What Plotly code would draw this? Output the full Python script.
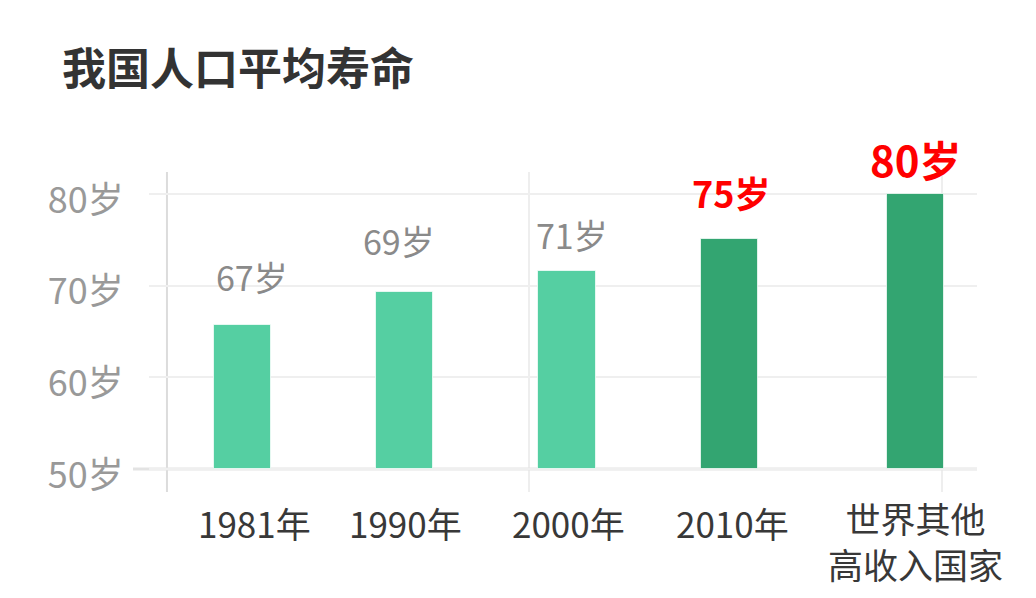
import plotly.graph_objects as go

# data
categories = ["1981年", "1990年", "2000年", "2010年", "世界其他<br>高收入国家"]
life_years = [65.7, 69.3, 71.6, 75.1, 80.0]
value_labels = ["67岁", "69岁", "71岁", "75岁", "80岁"]
highlight = [False, False, False, True, True]
y_ticks = [50, 60, 70, 80]
y_tick_labels = ["50岁", "60岁", "70岁", "80岁"]
base_age = 50

font_family = "Noto Sans CJK SC"
light_green = "#55CFA2"
dark_green = "#33A571"

# page body has an 8px margin, so the figure is a bit smaller than the window
fig_w, fig_h = 1020, 582

bar_width = 0.354
# last bar sits a bit to the right of its slot
bar_offset = [-bar_width / 2] * 4 + [-bar_width / 2 + 0.147]
label_xshift = [10, -6, 5, 2, 24]
label_yshift = [49, 52, 37, 47, 36]
tick_xshift = [12, 1, 1, 3, 24]
tick_yshift = [-3, -3, -3, -3, 2]

colors = [dark_green if h else light_green for h in highlight]

fig = go.Figure()
fig.add_trace(go.Bar(
    x=categories,
    y=[v - base_age for v in life_years],
    base=base_age,
    width=bar_width,
    offset=bar_offset,
    marker_color=colors,
    marker_line_color="rgba(255,255,255,0.7)",
    marker_line_width=1,
    hoverinfo="skip",
))

annotations = []
for i, cat in enumerate(categories):
    if highlight[i]:
        size = 42 if i == len(categories) - 1 else 36
        lab_font = dict(family=font_family, size=size, color="#FF0000", weight="bold")
    else:
        lab_font = dict(family=font_family, size=34, color="#8A8A8A")
    annotations.append(dict(
        x=cat, y=life_years[i], xref="x", yref="y",
        text=value_labels[i], showarrow=False,
        xanchor="center", yanchor="middle",
        xshift=label_xshift[i], yshift=label_yshift[i],
        font=lab_font,
    ))
    # category labels under the axis
    annotations.append(dict(
        x=cat, y=0, xref="x", yref="paper",
        text=cat, showarrow=False,
        xanchor="center", yanchor="top",
        xshift=tick_xshift[i], yshift=tick_yshift[i],
        font=dict(family=font_family, size=35, color="#383838"),
    ))

shapes = []
# y axis line and the two odd vertical grid lines
for xp, col in [(0.0217, "#DCDCDC"), (0.4589, "#EEEEEE"), (0.9577, "#EEEEEE")]:
    shapes.append(dict(type="line", xref="paper", yref="paper", x0=xp, x1=xp, y0=0, y1=1,
                       line=dict(color=col, width=2), layer="below"))
# baseline
shapes.append(dict(type="line", xref="paper", yref="y", x0=-0.0193, x1=1, y0=base_age, y1=base_age,
                   line=dict(color="#E3E3E3", width=3), layer="below"))

fig.update_layout(
    width=fig_w, height=fig_h,
    margin=dict(l=141, r=51, t=164, b=98),
    paper_bgcolor="white", plot_bgcolor="white",
    showlegend=False,
    title=dict(text="<b>我国人口平均寿命</b>", x=54 / fig_w, xref="container", xanchor="left",
               y=1 - 62 / fig_h, yanchor="middle",
               font=dict(family=font_family, size=44, color="#333333")),
    xaxis=dict(range=[-0.576, 4.526], showticklabels=False, showgrid=False,
               zeroline=False, showline=False, fixedrange=True),
    yaxis=dict(range=[47.49, 82.40], tickmode="array", tickvals=y_ticks, ticktext=y_tick_labels,
               showgrid=True, gridcolor="#EFEFEF", gridwidth=2, zeroline=False, showline=False,
               ticks="outside", ticklen=17, tickcolor="rgba(0,0,0,0)", ticklabelshift=6,
               tickfont=dict(family=font_family, size=36, color="#999999")),
    annotations=annotations,
    shapes=shapes,
    bargap=0,
)

fig.write_html("out.html")
